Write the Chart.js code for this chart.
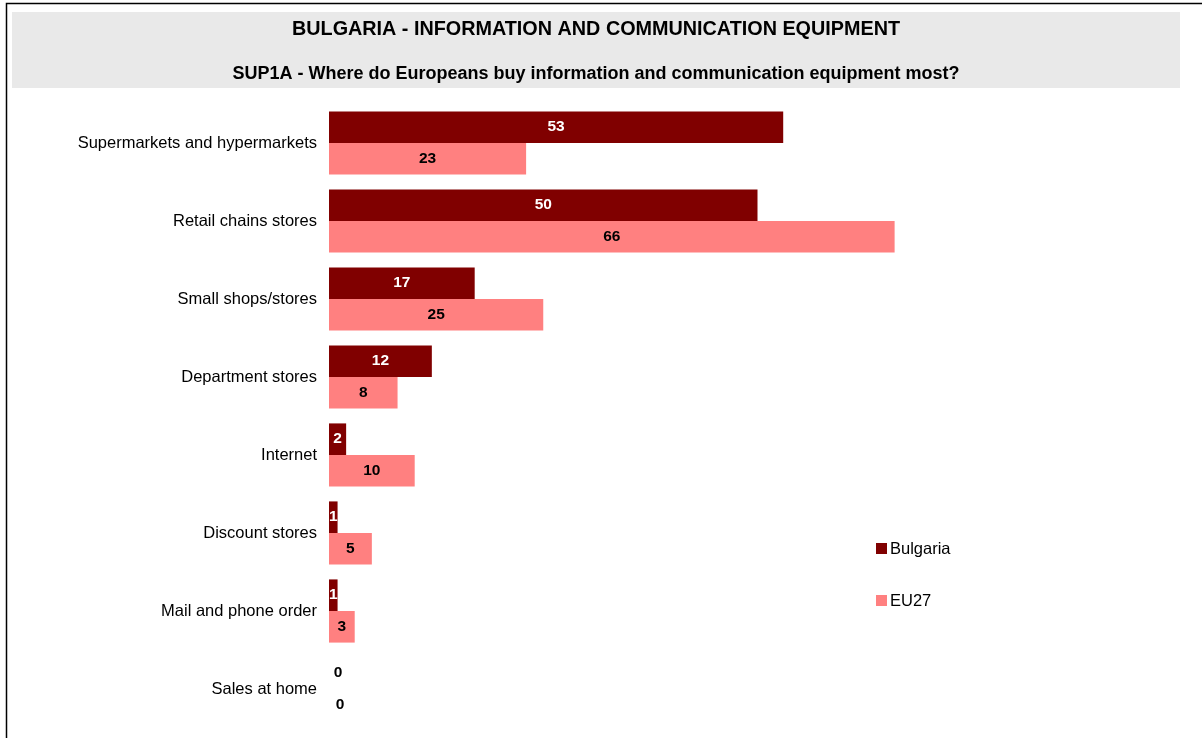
<!DOCTYPE html>
<html lang="en">
<head>
    <meta charset="UTF-8">
    <title>Bulgaria - Information and communication equipment</title>
    <style>
        body { margin: 0; background: #fff; }
        canvas { display: block; }
    </style>
</head>
<body>
<canvas id="myChart" width="1202" height="738"></canvas>
<script src="https://cdn.jsdelivr.net/npm/chart.js@4.4.0/dist/chart.umd.min.js"></script>
<script>
    const categories = [
        'Supermarkets and hypermarkets',
        'Retail chains stores',
        'Small shops/stores',
        'Department stores',
        'Internet',
        'Discount stores',
        'Mail and phone order',
        'Sales at home'
    ];
    const bulgaria = [53, 50, 17, 12, 2, 1, 1, 0];
    const eu27 = [23, 66, 25, 8, 10, 5, 3, 0];

    const mainTitle = 'BULGARIA - INFORMATION AND COMMUNICATION EQUIPMENT';
    const subTitle = 'SUP1A - Where do Europeans buy information and communication equipment most?';
    const font = '"Liberation Sans", Arial, sans-serif';

    // frame, grey title band, legend and bar values
    const decorations = {
        id: 'decorations',
        beforeDraw(chart) {
            const ctx = chart.ctx;
            ctx.save();
            ctx.fillStyle = '#e9e9e9';
            ctx.fillRect(12, 12, 1168, 76);
            ctx.strokeStyle = '#000';
            ctx.lineWidth = 1.5;
            ctx.beginPath();
            ctx.moveTo(1202, 3.5);
            ctx.lineTo(6.5, 3.5);
            ctx.lineTo(6.5, 738);
            ctx.stroke();

            ctx.fillStyle = '#000';
            ctx.textAlign = 'center';
            ctx.textBaseline = 'middle';
            ctx.font = 'bold 19.8px ' + font;
            ctx.fillText(mainTitle, 596, 30);
            ctx.font = 'bold 18px ' + font;
            ctx.fillText(subTitle, 596, 74);

            // legend
            const items = [['Bulgaria', '#800000', 549], ['EU27', '#ff8080', 601]];
            ctx.textAlign = 'left';
            ctx.font = '16.5px ' + font;
            items.forEach(([label, color, y]) => {
                ctx.fillStyle = color;
                ctx.fillRect(876, y - 6, 11, 11);
                ctx.fillStyle = '#000';
                ctx.fillText(label, 890, y);
            });
            ctx.restore();
        },
        afterDatasetsDraw(chart) {
            const ctx = chart.ctx;
            const x0 = chart.scales.x.getPixelForValue(0);
            ctx.save();
            ctx.font = 'bold 15.5px ' + font;
            ctx.textAlign = 'center';
            ctx.textBaseline = 'middle';
            chart.data.datasets.forEach((ds, i) => {
                chart.getDatasetMeta(i).data.forEach((bar, j) => {
                    const v = ds.data[j];
                    if (v === 0) {
                        ctx.fillStyle = '#000';
                        ctx.fillText(String(v), x0 + 9 + i * 2, bar.y);
                    } else {
                        ctx.fillStyle = i === 0 ? '#fff' : '#000';
                        ctx.fillText(String(v), (x0 + bar.x) / 2, bar.y);
                    }
                });
            });
            ctx.restore();
        }
    };

    let ctx = document.getElementById('myChart').getContext('2d');
    new Chart(ctx, {
        type: 'bar',
        data: {
            labels: categories,
            datasets: [
                {
                    label: 'Bulgaria',
                    backgroundColor: '#800000',
                    data: bulgaria
                },
                {
                    label: 'EU27',
                    backgroundColor: '#ff8080',
                    data: eu27
                }
            ]
        },
        options: {
            indexAxis: 'y',
            responsive: false,
            animation: false,
            categoryPercentage: 0.81,
            barPercentage: 1,
            layout: {
                padding: { top: 104, right: 16, bottom: 10, left: 0 }
            },
            scales: {
                x: {
                    display: false,
                    min: 0,
                    max: 100
                },
                y: {
                    grid: { display: false, drawTicks: false },
                    border: { display: false },
                    ticks: {
                        color: '#000',
                        padding: 12,
                        font: { family: font, size: 16.5 }
                    },
                    afterFit(scale) {
                        scale.width = 329;
                        scale.paddingTop = 0;
                        scale.paddingBottom = 0;
                    }
                }
            },
            plugins: {
                legend: { display: false },
                tooltip: { enabled: false }
            }
        },
        plugins: [decorations]
    });
</script>
</body>
</html>
